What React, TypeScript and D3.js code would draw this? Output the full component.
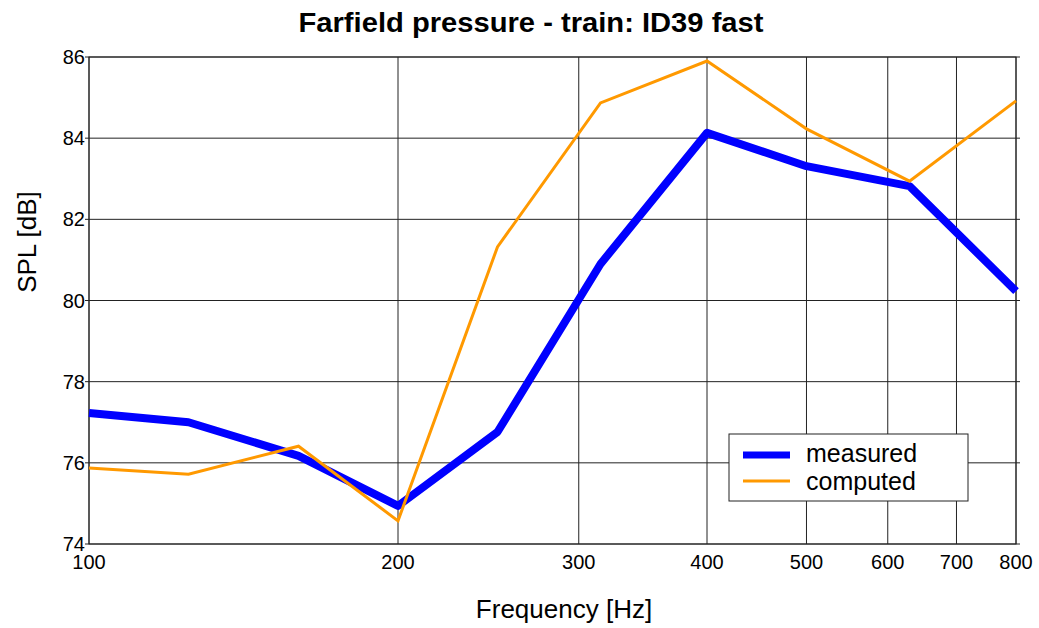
import React, { useRef, useEffect } from "react";
import * as d3 from "d3";

const freqs = [100, 125, 160, 200, 250, 315, 400, 500, 630, 800];
const measured = [77.23, 77.0, 76.17, 74.94, 76.76, 80.9, 84.13, 83.31, 82.82, 80.23];
const computed = [75.87, 75.72, 76.41, 74.57, 81.32, 84.87, 85.9, 84.23, 82.94, 84.92];
const xTicks = [100, 200, 300, 400, 500, 600, 700, 800];
const yTicks = [74, 76, 78, 80, 82, 84, 86];

const App = () => {
  const svgRef = useRef<SVGSVGElement>(null);

  useEffect(() => {
    const svg = d3.select(svgRef.current);
    svg.selectAll("*").remove();

    const width = 1039;
    const height = 628;
    const margin = { top: 57, right: 23, bottom: 84, left: 89 };
    const w = width - margin.left - margin.right;
    const h = height - margin.top - margin.bottom;
    const font = "'Liberation Sans', Arial, sans-serif";

    const x = d3.scaleLog().domain([100, 800]).range([0, w]);
    const y = d3.scaleLinear().domain([74, 86]).range([h, 0]);

    const g = svg
      .append("g")
      .attr("transform", `translate(${margin.left},${margin.top})`);

    // grid
    g.append("g")
      .selectAll("line")
      .data(xTicks)
      .join("line")
      .attr("x1", (d) => x(d))
      .attr("x2", (d) => x(d))
      .attr("y1", 0)
      .attr("y2", h)
      .attr("stroke", "#222")
      .attr("stroke-width", 1);

    g.append("g")
      .selectAll("line")
      .data(yTicks)
      .join("line")
      .attr("x1", -4)
      .attr("x2", w + 4)
      .attr("y1", (d) => y(d))
      .attr("y2", (d) => y(d))
      .attr("stroke", "#222")
      .attr("stroke-width", 1);

    g.append("rect")
      .attr("width", w)
      .attr("height", h)
      .attr("fill", "none")
      .attr("stroke", "#222")
      .attr("stroke-width", 1);

    // tick labels
    g.append("g")
      .selectAll("text")
      .data(yTicks)
      .join("text")
      .attr("x", -4)
      .attr("y", (d) => y(d) + 7)
      .attr("text-anchor", "end")
      .attr("font-family", font)
      .attr("font-size", 20)
      .text((d) => d);

    g.append("g")
      .selectAll("text")
      .data(xTicks)
      .join("text")
      .attr("x", (d) => x(d))
      .attr("y", h + 25)
      .attr("text-anchor", "middle")
      .attr("font-family", font)
      .attr("font-size", 20)
      .text((d) => d);

    // axis labels
    svg
      .append("text")
      .attr("x", 564)
      .attr("y", 618)
      .attr("text-anchor", "middle")
      .attr("font-family", font)
      .attr("font-size", 26)
      .text("Frequency [Hz]");

    svg
      .append("text")
      .attr("transform", `translate(36,242) rotate(-90)`)
      .attr("text-anchor", "middle")
      .attr("font-family", font)
      .attr("font-size", 26)
      .text("SPL [dB]");

    svg
      .append("text")
      .attr("x", 531)
      .attr("y", 32)
      .attr("text-anchor", "middle")
      .attr("font-family", font)
      .attr("font-weight", "bold")
      .attr("font-size", 28)
      .attr("textLength", 465)
      .attr("lengthAdjust", "spacingAndGlyphs")
      .text("Farfield pressure - train: ID39 fast");

    const line = d3
      .line<number>()
      .x((d, i) => x(freqs[i]))
      .y((d) => y(d));

    g.append("path")
      .datum(measured)
      .attr("fill", "none")
      .attr("stroke", "#0000ff")
      .attr("stroke-width", 8)
      .attr("stroke-linejoin", "round")
      .attr("d", line);

    g.append("path")
      .datum(computed)
      .attr("fill", "none")
      .attr("stroke", "#ff9900")
      .attr("stroke-width", 3)
      .attr("d", line);

    // legend
    const lg = svg.append("g").attr("transform", "translate(729,434)");
    lg.append("rect")
      .attr("width", 239)
      .attr("height", 67)
      .attr("fill", "#fff")
      .attr("stroke", "#222")
      .attr("stroke-width", 1);
    const items = [
      { name: "measured", color: "#0000ff", sw: 7 },
      { name: "computed", color: "#ff9900", sw: 3 },
    ];
    items.forEach((it, i) => {
      const cy = 21 + i * 26;
      lg.append("line")
        .attr("x1", 14)
        .attr("x2", 61)
        .attr("y1", cy)
        .attr("y2", cy)
        .attr("stroke", it.color)
        .attr("stroke-width", it.sw);
      lg.append("text")
        .attr("x", 77)
        .attr("y", 28 + i * 28)
        .attr("font-family", font)
        .attr("font-size", 25)
        .text(it.name);
    });
  }, []);

  return <svg ref={svgRef} width={1039} height={628} style={{ position: "absolute", left: 0, top: 0 }}></svg>;
};

export default App;
